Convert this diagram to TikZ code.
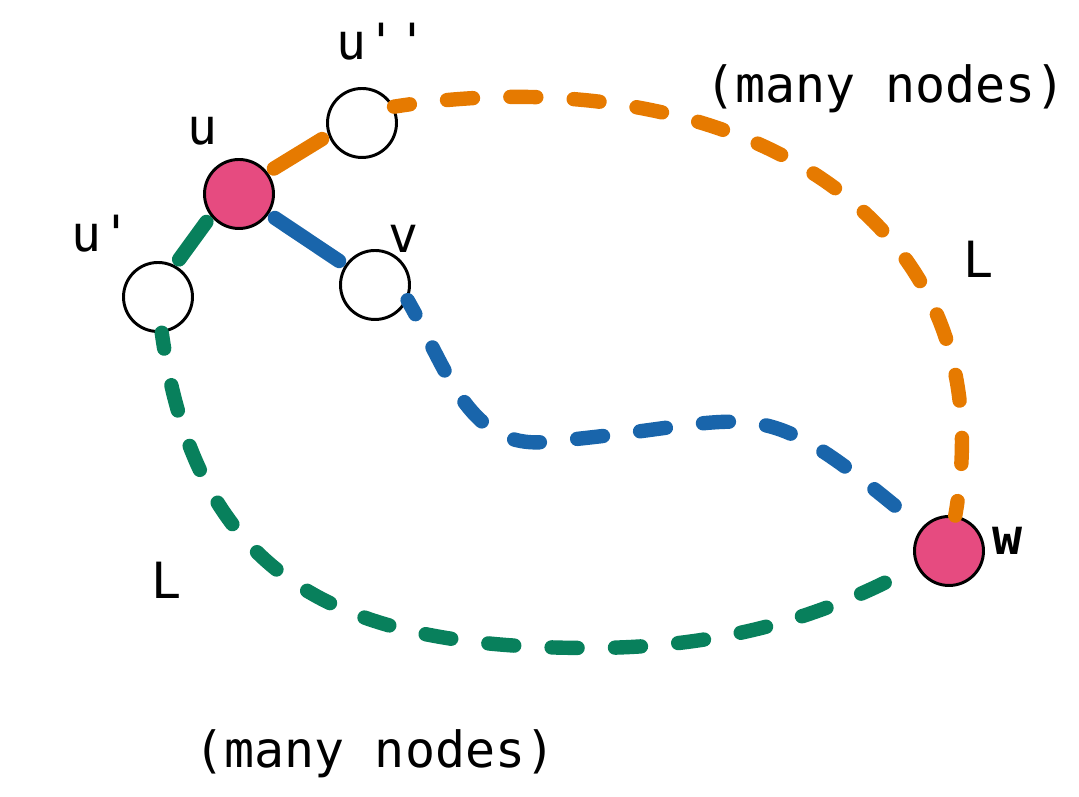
\documentclass[tikz,border=0pt]{standalone}
\usepackage{fontspec}
\setmonofont{DejaVu Sans Mono}
\usetikzlibrary{arrows}
\definecolor{node_pink}{RGB}{230,75,128}
\definecolor{edge_orange}{RGB}{230,122,0}
\definecolor{edge_green}{RGB}{8,128,92}
\definecolor{edge_blue}{RGB}{25,101,171}

\begin{document}
\begin{tikzpicture}[semithick,line cap=round]
    \tikzstyle{tag}=[text=black, anchor=base, inner sep=0pt, font=\ttfamily\fontsize{35.5}{42}\selectfont]
    \tikzstyle{vertex}=[draw=black, circle, line width=2.1pt, minimum size=1.725cm, inner sep=0pt, fill=white]
    \tikzstyle{vertexend}=[style=vertex, fill=node_pink]
    \tikzstyle{hop}=[line width=0.36cm, shorten <=0.18cm, shorten >=0.18cm]
    \tikzstyle{walk}=[line width=0.36cm, dash pattern=on 0.65cm off 0.935cm, dash phase=0.25cm]

    \useasboundingbox (0,0) rectangle (26.975,19.925);

    \node[vertexend] (u)  at (5.975,15.075) {};
    \node[vertex]    (uu) at (9.05,16.85)   {};
    \node[vertex]    (up) at (3.95,12.5)    {};
    \node[vertex]    (v)  at (9.375,12.8)   {};
    \node[vertexend] (w)  at (23.725,6.15)  {};

    \node[tag] (lu)  at (5.075,16.3)   {u};
    \node[tag] (luu) at (9.55,18.425)  {u''};
    \node[tag] (lup) at (2.55,13.625)  {u'};
    \node[tag] (lv)  at (10.1,13.6)    {v};
    \node[tag] (lw)  at (25.2,6.05)    {\bfseries w};
    \node[tag] (lr)  at (24.475,12.975) {L};
    \node[tag] (ll)  at (4.175,4.95)   {L};
    \node[tag] (mr)  at (22.14,17.35)  {(many nodes)};
    \node[tag] (ml)  at (9.375,0.725)  {(many nodes)};

    \coordinate (b1) at (13.625,8.875);
    \coordinate (g1) at (14.75,3.725);

    \path
     (u.37)  edge[hop,edge_orange] (uu.200)
     (u.218) edge[hop,edge_green]  (up.62)
     (u)     edge[hop,edge_blue]   (v);

    \draw[walk,edge_orange] (uu.27) to[out=9,in=80,looseness=1.18] (w.80);
    \draw[walk,edge_blue] (v.-25) to[out=-60,in=185] (b1) to[out=5,in=140,looseness=1.5] (w.140);
    \draw[walk,edge_green] (up.-84) to[out=-82,in=180,looseness=1.2] (g1) to[out=0,in=209,looseness=0.9] (w.205);
\end{tikzpicture}
\end{document}
